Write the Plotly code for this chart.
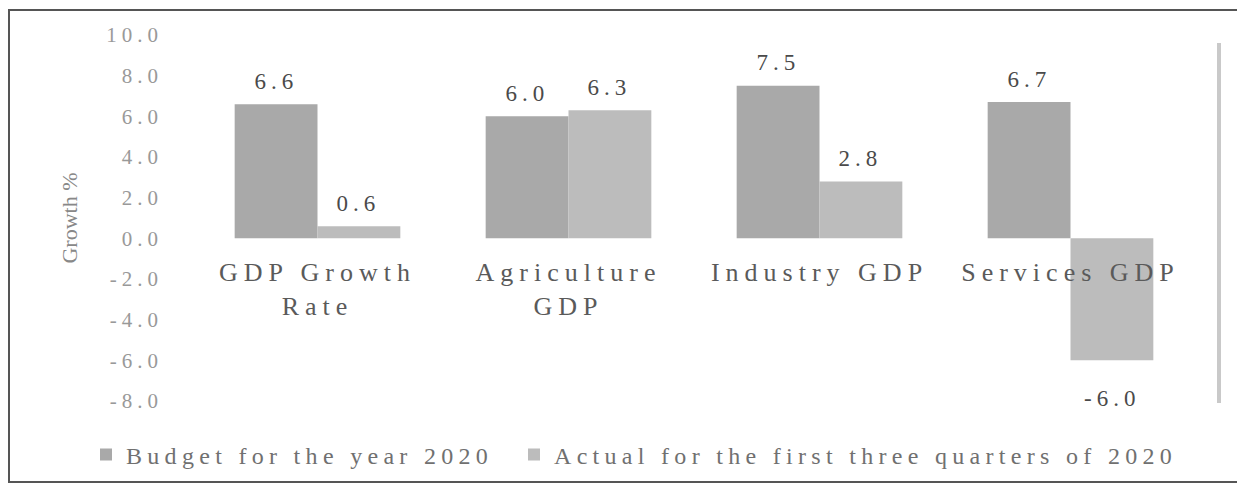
import plotly.graph_objects as go

# ---- data ----
categories = ["GDP Growth<br>Rate", "Agriculture<br>GDP", "Industry GDP", "Services GDP"]
budget_2020 = [6.6, 6.0, 7.5, 6.7]
actual_first_three_quarters_2020 = [0.6, 6.3, 2.8, -6.0]
series_names = ["Budget for the year 2020", "Actual for the first three quarters of 2020"]
y_tickvals = [10, 8, 6, 4, 2, 0, -2, -4, -6, -8]
y_ticktext = ["10.0", "8.0", "6.0", "4.0", "2.0", "0.0", "-2.0", "-4.0", "-6.0", "-8.0"]
y_title = "Growth %"

# ---- style ----
SERIF = "Liberation Serif, Times New Roman, serif"
BUDGET_COLOR = "#a9a9a9"
ACTUAL_COLOR = "#bcbcbc"
PAGE_OFFSET = 8            # default body margin of the html page
W, H = 1245 - PAGE_OFFSET, 489 - PAGE_OFFSET
L, R, T, B = 184, 49, 27, 88
plot_w = W - L - R
plot_h = H - T - B
BARGAP = 0.34
Y_RANGE = [-8, 10]


def fx(page_x):
    """page pixel x -> paper coordinate"""
    return (page_x - PAGE_OFFSET - L) / plot_w


def fy(page_y):
    """page pixel y -> paper coordinate"""
    return (H - B - (page_y - PAGE_OFFSET)) / plot_h


fig = go.Figure()
fig.add_trace(go.Bar(name=series_names[0], x=categories, y=budget_2020, legend="legend",
                     marker=dict(color=BUDGET_COLOR, line=dict(width=0))))
fig.add_trace(go.Bar(name=series_names[1], x=categories, y=actual_first_three_quarters_2020,
                     legend="legend2",
                     marker=dict(color=ACTUAL_COLOR, line=dict(width=0))))

# data labels above / below bars
half_offset = (1 - BARGAP) / 2 * plot_w / len(categories) / 2
for sign, values in ((-1, budget_2020), (1, actual_first_three_quarters_2020)):
    for cat, v in zip(categories, values):
        fig.add_annotation(x=cat, y=v, xref="x", yref="y", text=f"{v:.1f}",
                           showarrow=False, xshift=sign * half_offset,
                           yshift=23 if v >= 0 else -38, yanchor="middle",
                           font=dict(family=SERIF, size=23, color="#4a4a4a"))

# outer frame of the picture
fig.add_shape(type="rect", xref="paper", yref="paper",
              x0=fx(9), x1=fx(1244), y0=fy(482), y1=fy(10),
              line=dict(color="#555555", width=2), fillcolor="rgba(0,0,0,0)", layer="below")
# grey vertical rule on the right of the plot area
fig.add_shape(type="line", xref="paper", yref="paper",
              x0=fx(1219), x1=fx(1219), y0=fy(403), y1=fy(43),
              line=dict(color="#c9c9c9", width=4))

zero_pos = (0 - Y_RANGE[0]) / (Y_RANGE[1] - Y_RANGE[0])
legend_font = dict(family=SERIF, size=24, color="#707070")

fig.update_layout(
    width=W, height=H,
    margin=dict(l=L, r=R, t=T, b=B, autoexpand=False),
    plot_bgcolor="white", paper_bgcolor="white",
    barmode="group", bargap=BARGAP, bargroupgap=0,
    font=dict(family=SERIF, color="#777777"),
    xaxis=dict(anchor="free", position=zero_pos, showline=False, showgrid=False,
               zeroline=False, ticks="", ticklabelstandoff=16,
               tickfont=dict(family=SERIF, size=26, color="#5a5a5a")),
    yaxis=dict(range=Y_RANGE, tickvals=y_tickvals, ticktext=y_ticktext,
               showgrid=False, zeroline=False, showline=False, ticks="",
               ticklabelstandoff=28,
               tickfont=dict(family=SERIF, size=21, color="#999999"),
               title=dict(text=y_title, standoff=42,
                          font=dict(family=SERIF, size=22, color="#888888"))),
    legend=dict(orientation="h", x=fx(86), y=fy(455), xanchor="left", yanchor="middle",
                entrywidth=400, entrywidthmode="pixels",
                font=legend_font, bgcolor="rgba(0,0,0,0)"),
    legend2=dict(orientation="h", x=fx(514), y=fy(455), xanchor="left", yanchor="middle",
                 entrywidth=660, entrywidthmode="pixels",
                 font=legend_font, bgcolor="rgba(0,0,0,0)"),
    showlegend=True,
)

# the reference's typeface is widely tracked; reproduce that spacing on the svg text
post_js = """
var gd = document.getElementById('{plot_id}');
function applyTracking() {
  function track(sel, v) {
    gd.querySelectorAll(sel).forEach(function (t) { t.style.letterSpacing = v; });
  }
  track('.xtick text', '6px');
  track('.ytick text', '5px');
  track('.legendtext, .legend2text', '5.3px');
  track('.annotation-text', '5px');
}
applyTracking();
gd.on('plotly_afterplot', applyTracking);
setTimeout(applyTracking, 0);
setTimeout(applyTracking, 200);
"""

fig.write_html("out.html", post_script=post_js)
